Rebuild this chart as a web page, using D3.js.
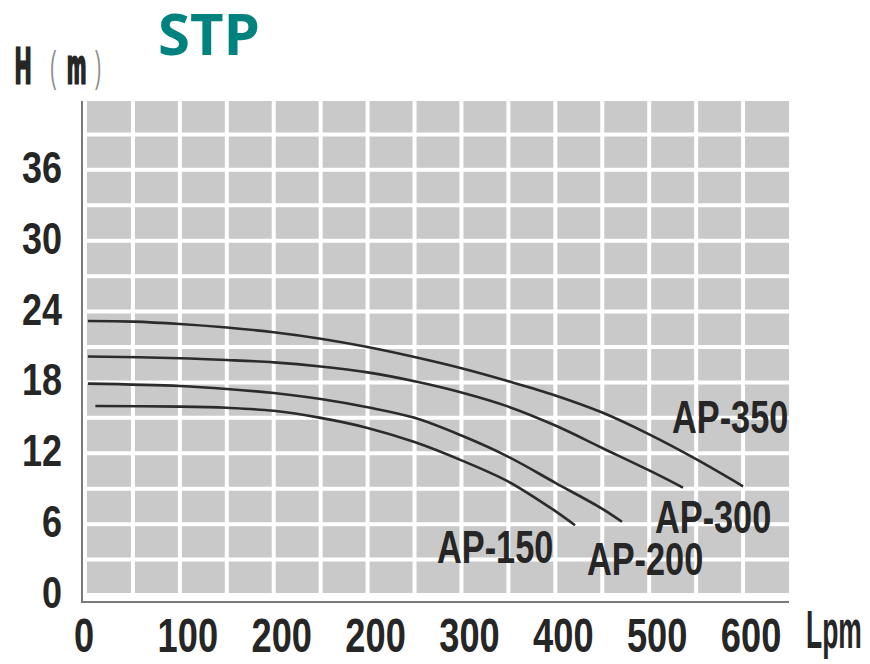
<!DOCTYPE html>
<html>
<head>
<meta charset="utf-8">
<style>
body { margin: 0; background: #fff; }
svg { display: block; }
</style>
</head>
<body>
<svg width="870" height="664"></svg>
<script src="https://cdn.jsdelivr.net/npm/d3@7"></script>
<script>
// curve data (flow on grid units, head in m)
var series = ["AP-350", "AP-300", "AP-200", "AP-150"];
var flowAP350 = [2, 50, 100, 150, 200, 250, 300, 350, 400, 450, 500, 550, 600, 650, 700];
var headAP350 = [23.2, 23.15, 22.95, 22.65, 22.25, 21.7, 21.0, 20.15, 19.2, 18.1, 16.9, 15.45, 13.6, 11.5, 9.2];
var flowAP300 = [2, 100, 150, 200, 250, 300, 350, 400, 450, 500, 550, 600, 636];
var headAP300 = [20.2, 20.05, 19.9, 19.7, 19.35, 18.85, 18.1, 17.15, 15.95, 14.35, 12.45, 10.55, 9.1];
var flowAP200 = [2, 100, 150, 200, 250, 300, 350, 400, 450, 500, 550, 571];
var headAP200 = [17.9, 17.7, 17.45, 17.1, 16.6, 15.9, 15.0, 13.5, 11.7, 9.5, 7.3, 6.2];
var flowAP150 = [10, 100, 150, 200, 250, 300, 350, 400, 450, 500, 521];
var headAP150 = [16.0, 15.95, 15.85, 15.6, 15.0, 14.15, 12.95, 11.4, 9.6, 7.1, 5.9];

var xTicks = [0, 100, 200, 300, 400, 500, 600, 700];
var xTickLabels = ["0", "100", "200", "200", "300", "400", "500", "600"];
var yTicks = [0, 6, 12, 18, 24, 30, 36];

var svg = d3.select("svg");
var x = d3.scaleLinear().domain([0, 750]).range([86, 790]);
var y = d3.scaleLinear().domain([0, 42]).range([595, 99]);

var ink = "#262626";
var font = "'Liberation Sans', Arial, sans-serif";

// title
svg.append("text")
  .attr("x", 158).attr("y", 55)
  .attr("fill", "#00837f")
  .style("font-family", "'Open Sans', sans-serif")
  .style("font-weight", "bold")
  .style("font-size", "58px")
  .text("STP");

// gray board
svg.append("rect")
  .attr("x", x(0) + 1).attr("y", y(42) + 2)
  .attr("width", x(750) - x(0) - 2)
  .attr("height", y(0) - y(42) - 4)
  .attr("fill", "#c9c9c9");

// white grid
svg.append("g").selectAll("line")
  .data(d3.range(50, 750, 50))
  .enter().append("line")
  .attr("x1", function(d) { return x(d); })
  .attr("x2", function(d) { return x(d); })
  .attr("y1", y(42)).attr("y2", y(0))
  .attr("stroke", "#fff").attr("stroke-width", 4);

svg.append("g").selectAll("line")
  .data(d3.range(3, 42, 3))
  .enter().append("line")
  .attr("y1", function(d) { return y(d); })
  .attr("y2", function(d) { return y(d); })
  .attr("x1", x(0)).attr("x2", x(750))
  .attr("stroke", "#fff").attr("stroke-width", 4);

// axis lines
svg.append("path")
  .attr("d", "M" + (x(0) - 4) + "," + (y(42) + 2) + "V" + (y(0) + 7) + "H" + (x(750) - 1))
  .attr("fill", "none")
  .attr("stroke", "#7a7a7a")
  .attr("stroke-width", 2);

// curves
var line = d3.line()
  .x(function(d) { return x(d[0]); })
  .y(function(d) { return y(d[1]); })
  .curve(d3.curveCatmullRom.alpha(0.5));

var curves = [
  d3.zip(flowAP350, headAP350),
  d3.zip(flowAP300, headAP300),
  d3.zip(flowAP200, headAP200),
  d3.zip(flowAP150, headAP150)
];

svg.append("g").selectAll("path")
  .data(curves)
  .enter().append("path")
  .attr("d", line)
  .attr("fill", "none")
  .attr("stroke", "#2b2b2b")
  .attr("stroke-width", 2.6);

// squeezed text helper
function narrow(g, px, py, str, size, sx, anchor) {
  return g.append("g")
    .attr("transform", "translate(" + px + "," + py + ") scale(" + sx + ",1)")
    .append("text")
    .attr("text-anchor", anchor || "start")
    .attr("fill", ink)
    .style("font-family", font)
    .style("font-weight", "bold")
    .style("font-size", size + "px")
    .text(str);
}

// curve labels, offset from each curve's last point
var labelShift = [[-71, -53], [-28, 45], [-35, 53], [-138, 38]];
series.forEach(function(s, i) {
  var last = curves[i][curves[i].length - 1];
  narrow(svg, x(last[0]) + labelShift[i][0], y(last[1]) + labelShift[i][1], s, 47, 0.73);
});

// y tick labels
yTicks.forEach(function(t) {
  narrow(svg, 62, y(t) + 13, String(t), 45, 0.8, "end");
});

// x tick labels
xTicks.forEach(function(t, i) {
  narrow(svg, x(t) + (i ? 8 : -2), 652, xTickLabels[i], 49, 0.74, "middle");
});

narrow(svg, 806, 648, "Lpm", 54, 0.49);

// y title
var yt = svg.append("g")
  .attr("transform", "translate(14,83) scale(0.45,1)")
  .append("text")
  .attr("fill", ink)
  .style("font-family", font);
yt.append("tspan").attr("x", 2).style("font-size", "50px").style("font-weight", "bold")
  .attr("stroke", ink).attr("stroke-width", 3).text("H");
yt.append("tspan").attr("x", 80).attr("dy", -2).style("font-size", "42px").attr("fill", "#8c8c8c").text("(");
yt.append("tspan").attr("x", 118).attr("dy", 2).style("font-size", "48px").style("font-weight", "bold")
  .attr("stroke", ink).attr("stroke-width", 3).text("m");
yt.append("tspan").attr("x", 180).attr("dy", -2).style("font-size", "42px").attr("fill", "#8c8c8c").text(")");
</script>
</body>
</html>
